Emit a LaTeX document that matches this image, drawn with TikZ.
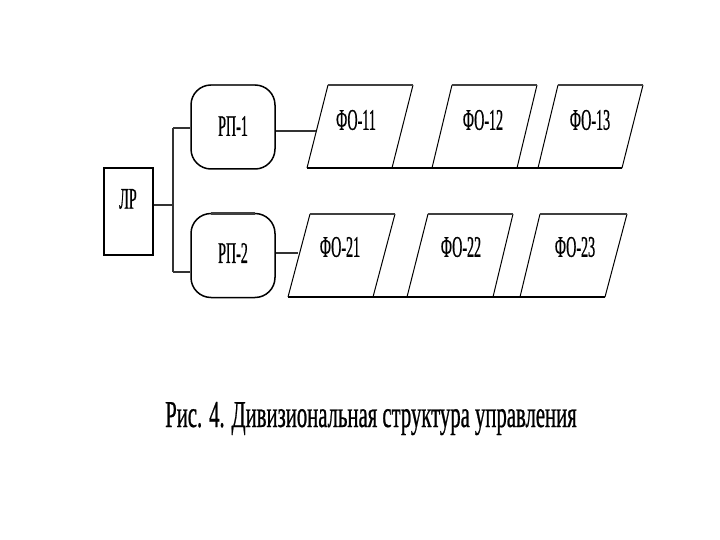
\documentclass[tikz,border=0pt]{standalone}
\usepackage{fontspec}
\setmainfont{Liberation Serif}
\newfontfamily\cond[FakeStretch=0.47,FakeBold=0.6]{Liberation Serif}
\newfontfamily\condcap[FakeStretch=0.545,FakeBold=0.6]{Liberation Serif}
\begin{document}
\begin{tikzpicture}[x=1pt,y=-1pt,
  lbl/.style={font=\cond\fontsize{30}{30}\selectfont, inner sep=0pt},
  captext/.style={font=\condcap\fontsize{38}{38}\selectfont, inner sep=0pt},
  sideline/.style={line width=1pt, black},
  topline/.style={line width=2.6pt, black!75},
  botline/.style={line width=2pt, black},
  conn/.style={line width=2pt, black!80},
  vconn/.style={line width=1.4pt, black!80},
  lrbox/.style={draw, line width=1.2pt, minimum width=49pt, minimum height=87pt, inner sep=0pt},
  rpbox/.style={draw, line width=1.5pt, rounded corners=20pt, minimum width=84pt, minimum height=84pt, inner sep=0pt}
]
\useasboundingbox[fill=white] (0,0) rectangle (720,540);

% ЛР
\node[lrbox] (lr) at (128.5,211.5) {};
\node[lbl] (lrt) at (128,199) {ЛР};

% РП boxes
\node[rpbox] (rp1) at (233,127) {};
\node[lbl] (rp1t) at (233,126) {РП-1};
\node[rpbox] (rp2) at (233,255.5) {};
\node[lbl] (rp2t) at (233,253) {РП-2};
\draw[topline] ([xshift=-22pt,yshift=-0.6pt]rp1.north) -- ([xshift=22pt,yshift=-0.6pt]rp1.north);
\draw[topline] ([xshift=-22pt,yshift=-0.6pt]rp2.north) -- ([xshift=22pt,yshift=-0.6pt]rp2.north);

% tree
\coordinate (j) at (173,205);
\coordinate (j1) at (173,128);
\coordinate (j2) at (173,272);
\draw[conn] (lr.east |- j) -- (j);
\draw[vconn] (j1) -- (j2);
\draw[conn] (j1) -- (j1 -| rp1.west);
\draw[conn] (j2) -- (j2 -| rp2.west);

% row 1 parallelograms
\foreach \tl/\tr/\bl/\br/\n/\tx in {328/413/307/392/11/356, 452/537/432/517/12/483, 558/643/538/622/13/590}{
  \draw[sideline] (\bl,168) -- (\tl,85);
  \draw[sideline] (\br,168) -- (\tr,85);
  \draw[topline] (\tl,85) -- (\tr,85);
  \node[lbl] (fo\n) at (\tx,120) {ФО-\n};
}
\draw[botline] (307,168) -- (622,168);

% row 2 parallelograms
\foreach \tl/\tr/\bl/\br/\n/\tx in {310/395/288/373/21/340, 428/513/407/493/22/461, 540/627/520/605/23/575}{
  \draw[sideline] (\bl,297) -- (\tl,214);
  \draw[sideline] (\br,297) -- (\tr,214);
  \draw[topline] (\tl,214) -- (\tr,214);
  \node[lbl] (fo\n) at (\tx,247) {ФО-\n};
}
\draw[botline] (288,297) -- (605,297);

% connectors to ФО
\coordinate (e11) at (316,131);
\coordinate (e21) at (298,253);
\draw[conn] (rp1.east |- e11) -- (e11);
\draw[conn] (rp2.east |- e21) -- (e21);

% caption
\node[captext, anchor=base] (caption) at (371,427) {Рис. 4. Дивизиональная структура управления};
\end{tikzpicture}
\end{document}
